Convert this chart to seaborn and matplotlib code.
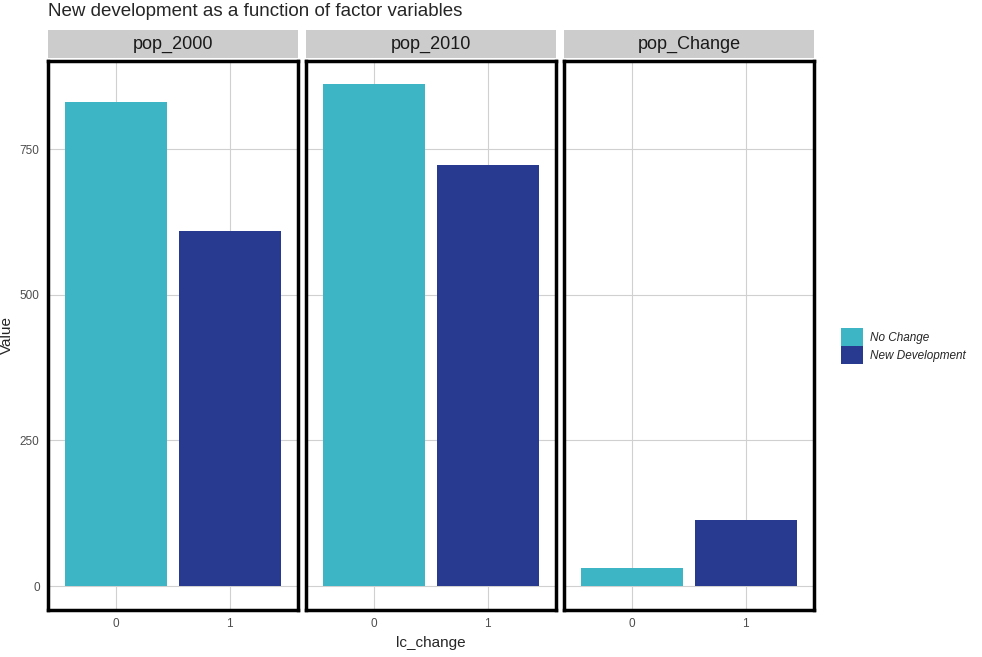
import pandas as pd
import matplotlib.pyplot as plt
import seaborn as sns
from matplotlib.patches import Patch

# values
panels = ['pop_2000', 'pop_2010', 'pop_Change']
lc_change = ['0', '1']
pop_2000 = [830, 609]
pop_2010 = [861, 722]
pop_change = [31, 113]
legend_labels = ['No Change', 'New Development']
colors = ['#3DB5C4', '#283A8F']

df = pd.DataFrame({
    'variable': [p for p in panels for _ in lc_change],
    'lc_change': lc_change * 3,
    'Value': pop_2000 + pop_2010 + pop_change,
})

sns.set_style('white')
plt.rcParams['font.family'] = ['Liberation Sans', 'DejaVu Sans']

fig = plt.figure(figsize=(9.82, 6.57), dpi=100)
W, H = 982, 657
lefts = [48, 306, 564]
pw = 250
top, bottom = 61, 610

for i, (name, left) in enumerate(zip(panels, lefts)):
    ax = fig.add_axes([left / W, 1 - bottom / H, pw / W, (bottom - top) / H])
    sub = df[df['variable'] == name]
    sns.barplot(data=sub, x='lc_change', y='Value', hue='lc_change',
                palette=colors, dodge=False, width=0.9, legend=False,
                saturation=1, linewidth=0, ax=ax, zorder=2)
    ax.set_xlim(-0.6, 1.6)
    ax.set_ylim(-41, 901)
    ax.set_yticks([0, 250, 500, 750])
    ax.grid(True, color='#d0d0d0', linewidth=0.8, zorder=0)
    ax.set_axisbelow(True)
    for s in ax.spines.values():
        s.set_visible(True)
        s.set_color('black')
        s.set_linewidth(2.5)
    ax.tick_params(length=0, labelsize=8.5, labelcolor='#4d4d4d', pad=6)
    if i > 0:
        ax.set_yticklabels([])
        ax.set_ylabel('')
    else:
        ax.set_ylabel('Value', fontsize=11)
    ax.set_xlabel('lc_change' if i == 1 else '', fontsize=11)
    # facet strip
    sax = fig.add_axes([left / W, 1 - 58 / H, pw / W, 28 / H])
    sax.set_facecolor('#cccccc')
    sax.set_xticks([])
    sax.set_yticks([])
    for s in sax.spines.values():
        s.set_visible(False)
    sax.text(0.5, 0.5, name, ha='center', va='center', fontsize=13,
             color='#1a1a1a', transform=sax.transAxes)

fig.text(48 / W, 1 - 12 / H, 'New development as a function of factor variables',
         fontsize=13.5, ha='left', va='center')

handles = [Patch(facecolor=c, edgecolor='none') for c in colors]
leg = fig.legend(handles, legend_labels, loc='center left',
                 bbox_to_anchor=(830 / W, 1 - 346 / H), frameon=False,
                 prop={'style': 'italic', 'size': 8.5},
                 handlelength=1.9, handleheight=1.9, handletextpad=0.6,
                 labelspacing=0.05)

fig.savefig('out.png', dpi=100)
